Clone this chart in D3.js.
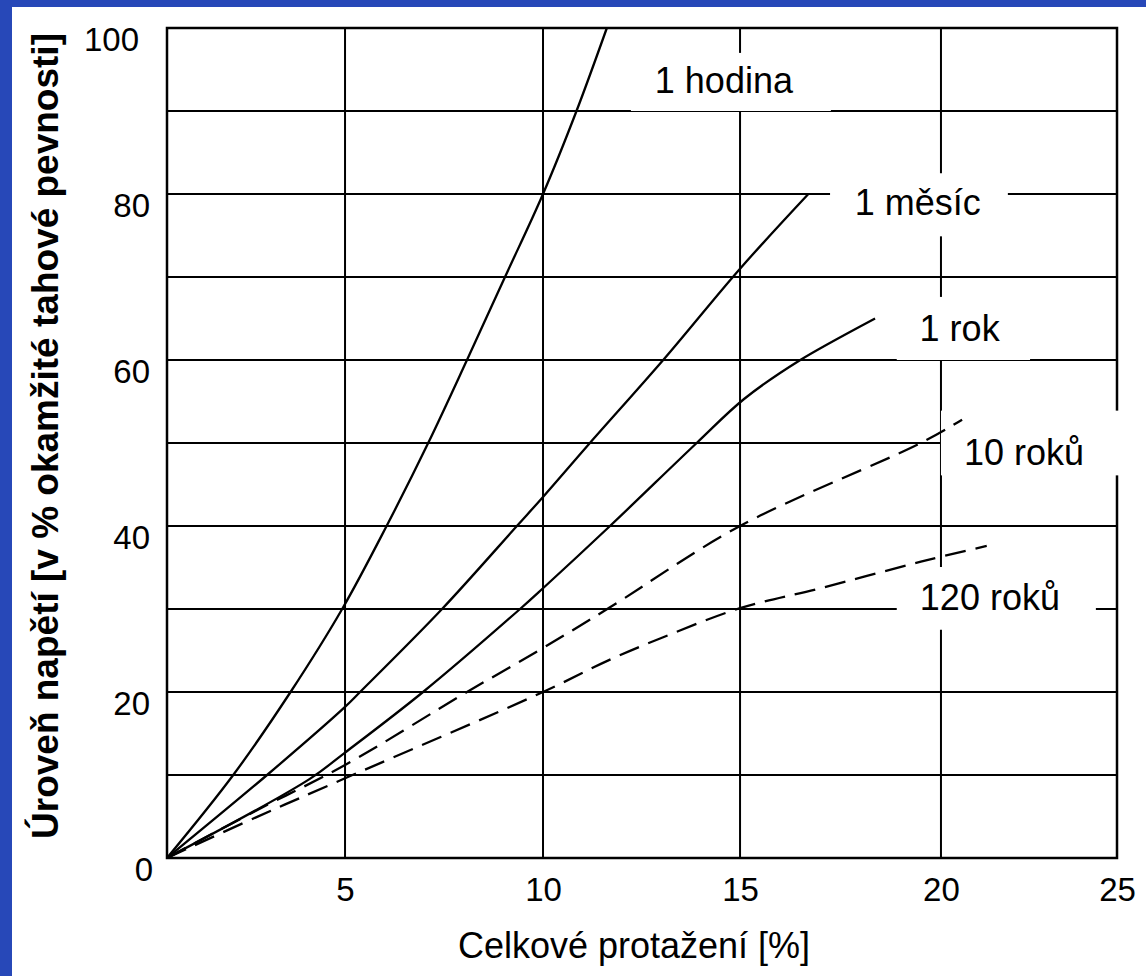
<!DOCTYPE html>
<html>
<head>
<meta charset="utf-8">
<script src="https://cdn.jsdelivr.net/npm/d3@7"></script>
<style>
	body{margin:0;background:#2748b8;}
	text{font-family:"Liberation Sans",Arial,sans-serif;fill:#000;}
</style>
</head>
<body>
<div class="chart"></div>
<script>
// curve data [elongation %, stress level %]
const hodina = [[0,0],[1.86,10],[3.47,20],[4.92,30],[6.05,40],[7.1,50],[8.08,60],[9.04,70],[10,80],[10.85,90],[11.62,100]];
const mesic = [[0,0],[2.81,10],[5,18.2],[5.38,20],[7.45,30],[9.34,40],[10,43.5],[11.19,50],[13.05,60],[15,71],[16.7,80]];
const rok = [[0,0],[4,9.5],[5,12.7],[6.97,20],[9.42,30],[10,32.5],[11.7,40],[13.9,50],[15.1,55.3],[16.5,60],[18.36,65]];
const roku10 = [[0,0],[2.5,5.7],[5,11.2],[8.08,20],[10,25.3],[11.7,30.2],[15,40],[19.5,50],[20.6,52.8]];
const roku120 = [[0,0],[2.5,4.9],[5,9.6],[10,20],[11.7,23.9],[13.05,26.6],[15,30.1],[17,32.5],[19.5,35.7],[21.3,37.6]];

const seriesNames = ['1 hodina','1 měsíc','1 rok','10 roků','120 roků'];
const seriesData = [hodina, mesic, rok, roku10, roku120];
const seriesDashed = [false,false,false,true,true];

const xTicks = [0,5,10,15,20,25];
const yTicks = [0,20,40,60,80,100];
const yGrid = [10,20,30,40,50,60,70,80,90];

// label boxes in data units: [x0,x1,y0,y1], text anchor [x,y]
const labelBox = [[12.23,17.26,90,97],[17.24,21.9,74.9,82.5],[18.9,22.53,60,67.6],[20,25.09,46.1,53.9],[18.9,24.4,27.5,35.06]];
const labelAt = [[14.59,92.2],[19.42,77.5],[20.53,62.3],[22.36,47.35],[21.39,29.9]];

const margin = ({top: 28, left: 167});
const width = 950;
const height = 830;

const svg = d3.select(".chart")
	.append("svg")
	.attr("width", 1146)
	.attr("height", 976)
	.style("display","block");

svg.append("rect").attr("width",1146).attr("height",976).attr("fill","#2748b8");
svg.append("rect").attr("x",12).attr("y",7).attr("width",1134).attr("height",969).attr("fill","#fff");

const g = svg.append("g")
	.attr("transform", "translate(" + margin.left + "," + margin.top + ")");

// hand-drawn original: the 5-unit columns are not quite equal
const xStops = [0,0.1874,0.3958,0.6032,0.8147,1];
const xScale = d3.scaleLinear()
	.domain(xTicks)
	.range(xStops.map(f=>f*width));

const yScale = d3.scaleLinear()
	.domain([0,100])
	.range([height,0]);

//Grid
g.selectAll(".vgrid")
	.data(xTicks.slice(1,-1))
	.enter().append("line")
	.attr("x1", d=>xScale(d)).attr("x2", d=>xScale(d))
	.attr("y1", 0).attr("y2", height)
	.attr("stroke","#000").attr("stroke-width",2);

g.selectAll(".hgrid")
	.data(yGrid)
	.enter().append("line")
	.attr("x1", 0).attr("x2", width)
	.attr("y1", d=>yScale(d)).attr("y2", d=>yScale(d))
	.attr("stroke","#000").attr("stroke-width",2);

g.append("rect")
	.attr("width", width).attr("height", height)
	.attr("fill","none").attr("stroke","#000").attr("stroke-width",2.5);

// white label boxes cut the grid
g.selectAll(".lbox")
	.data(labelBox)
	.enter().append("rect")
	.attr("x", d=>xScale(d[0]))
	.attr("y", d=>yScale(d[3]))
	.attr("width", d=>xScale(d[1])-xScale(d[0]))
	.attr("height", d=>yScale(d[2])-yScale(d[3]))
	.attr("fill","#fff");

//Curves
const line = d3.line()
	.x(d=>xScale(d[0]))
	.y(d=>yScale(d[1]))
	.curve(d3.curveCatmullRom.alpha(0.5));

g.selectAll(".curve")
	.data(seriesData)
	.enter().append("path")
	.attr("d", line)
	.attr("fill","none")
	.attr("stroke","#000")
	.attr("stroke-width",2.3)
	.attr("stroke-dasharray", (d,i)=>seriesDashed[i] ? "21,10" : null);

g.selectAll(".clabel")
	.data(seriesNames)
	.enter().append("text")
	.attr("x", (d,i)=>xScale(labelAt[i][0]))
	.attr("y", (d,i)=>yScale(labelAt[i][1]))
	.attr("text-anchor","middle")
	.attr("font-size","36px")
	.text(d=>d);

//Axes
const yAxis = d3.axisLeft(yScale)
	.tickValues(yTicks)
	.tickSize(0)
	.tickPadding(17);

g.append("g")
	.attr("class","axis y-axis")
	.call(yAxis)
	.call(a=>a.select(".domain").remove())
	.selectAll("text")
	.attr("font-size","33px")
	.attr("font-family",null)
	.attr("dy","0.67em")
	.attr("dx", d=>d===100 ? -11 : (d===0 ? 3 : 0));

const xAxis = d3.axisBottom(xScale)
	.tickValues(xTicks.slice(1))
	.tickSize(0)
	.tickPadding(20);

g.append("g")
	.attr("class","axis x-axis")
	.attr("transform", `translate(0, ${height})`)
	.call(xAxis)
	.call(a=>a.select(".domain").remove())
	.selectAll("text")
	.attr("font-size","33px")
	.attr("font-family",null);

//Axes Labels
svg.append("text")
	.attr("x", 634)
	.attr("y", 958)
	.attr("text-anchor","middle")
	.attr("font-size","36px")
	.text("Celkové protažení [%]");

svg.append("text")
	.attr("transform", "translate(58,436) rotate(-90)")
	.attr("text-anchor","middle")
	.attr("font-size","37px")
	.attr("font-weight","bold")
	.text("Úroveň napětí [v % okamžité tahové pevnosti]");
</script>
</body>
</html>
